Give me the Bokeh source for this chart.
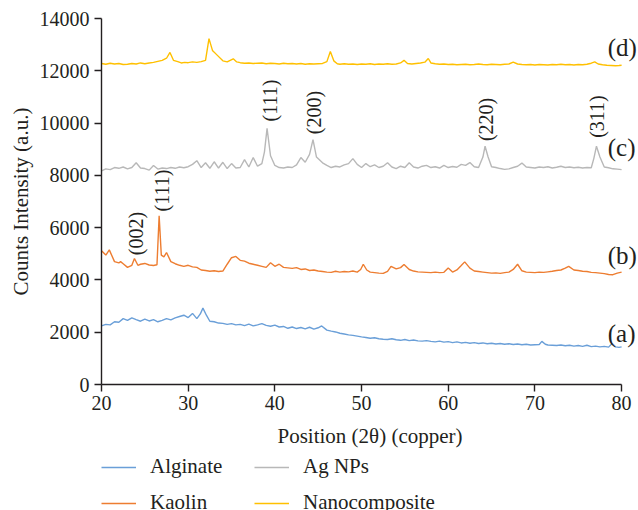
import math
from bokeh.plotting import figure
from bokeh.layouts import column
from bokeh.models import ColumnDataSource, FixedTicker, Legend, LegendItem
from bokeh.core.properties import value
from bokeh.embed import file_html
from bokeh.resources import INLINE

# ---------------- data ----------------
ALGINATE = [
    (20, 2240), (20.5, 2300), (21, 2280), (21.5, 2400), (22, 2380), (22.5, 2520), (23, 2450),
    (23.5, 2550), (24, 2480), (24.5, 2420), (25, 2500), (25.5, 2430), (26, 2480), (26.5, 2400),
    (27, 2450), (27.5, 2520), (28, 2470), (28.5, 2550), (29, 2600), (29.5, 2650), (30, 2560),
    (30.5, 2720), (31, 2520), (31.4, 2700), (31.7, 2920), (32.1, 2650), (32.5, 2420), (33, 2400),
    (33.5, 2350), (34, 2340), (34.5, 2300), (35, 2330), (35.5, 2280), (36, 2300), (36.5, 2250),
    (37, 2310), (37.5, 2240), (38, 2280), (38.5, 2330), (39, 2260), (39.5, 2230), (40, 2270),
    (40.5, 2200), (41, 2220), (41.5, 2150), (42, 2200), (42.5, 2140), (43, 2180), (43.5, 2130),
    (44, 2190), (44.5, 2120), (45, 2170), (45.4, 2240), (46, 2080), (46.5, 2040), (47, 2010),
    (47.5, 1960), (48, 1930), (48.5, 1900), (49, 1880), (49.5, 1850), (50, 1820), (50.5, 1800),
    (51, 1770), (51.5, 1790), (52, 1750), (52.5, 1730), (53, 1720), (53.5, 1750), (54, 1710),
    (54.5, 1690), (55, 1720), (55.5, 1680), (56, 1700), (56.5, 1670), (57, 1660), (57.5, 1680),
    (58, 1650), (58.5, 1630), (59, 1660), (59.5, 1620), (60, 1640), (60.5, 1600), (61, 1630),
    (61.5, 1590), (62, 1610), (62.5, 1580), (63, 1600), (63.5, 1570), (64, 1590), (64.5, 1560),
    (65, 1580), (65.5, 1550), (66, 1570), (66.5, 1540), (67, 1560), (67.5, 1530), (68, 1550),
    (68.5, 1520), (69, 1540), (69.5, 1510), (70, 1520), (70.5, 1530), (70.8, 1650), (71.2, 1540),
    (71.5, 1510), (72, 1500), (72.5, 1490), (73, 1510), (73.5, 1480), (74, 1500), (74.5, 1470),
    (75, 1490), (75.5, 1460), (76, 1500), (76.5, 1450), (77, 1470), (77.5, 1440), (78, 1460),
    (78.5, 1430), (78.9, 1570), (79.3, 1440), (79.7, 1420), (80, 1440),
]

KAOLIN = [
    (20, 5120), (20.5, 4950), (20.9, 5150), (21.5, 4700), (22, 4650), (22.2, 4700), (22.5, 4620),
    (23, 4480), (23.5, 4560), (23.8, 4820), (24.2, 4560), (24.5, 4600), (25, 4630), (25.5, 4570),
    (26, 4550), (26.4, 4580), (26.65, 6450), (26.9, 4950), (27.2, 4880), (27.5, 5050), (28, 4700),
    (28.5, 4620), (29, 4560), (29.5, 4520), (30, 4560), (30.5, 4500), (31, 4480), (31.5, 4380),
    (32, 4360), (32.5, 4330), (33, 4350), (33.5, 4320), (34, 4340), (34.5, 4600), (35, 4850),
    (35.5, 4900), (36, 4750), (36.5, 4720), (37, 4640), (37.5, 4600), (38, 4560), (38.5, 4520),
    (39, 4480), (39.5, 4660), (40, 4520), (40.5, 4600), (41, 4480), (41.5, 4460), (42, 4440),
    (42.5, 4470), (43, 4400), (43.5, 4420), (44, 4360), (44.5, 4380), (45, 4340), (45.5, 4320),
    (46, 4300), (46.5, 4290), (47, 4330), (47.5, 4300), (48, 4320), (48.5, 4310), (49, 4340),
    (49.5, 4300), (49.9, 4400), (50.2, 4600), (50.6, 4380), (51, 4300), (51.5, 4280), (52, 4260),
    (52.5, 4250), (53, 4330), (53.4, 4520), (54, 4420), (54.5, 4470), (54.9, 4590), (55.5, 4400),
    (56, 4340), (56.5, 4310), (57, 4300), (57.5, 4290), (58, 4280), (58.5, 4300), (59, 4280),
    (59.5, 4290), (60, 4460), (60.5, 4300), (61, 4380), (61.5, 4550), (61.9, 4690), (62.5, 4450),
    (63, 4340), (63.5, 4320), (64, 4300), (64.5, 4280), (65, 4260), (65.5, 4270), (66, 4250),
    (66.5, 4280), (67, 4300), (67.5, 4400), (68, 4600), (68.5, 4350), (69, 4300), (69.5, 4290),
    (70, 4280), (70.5, 4300), (71, 4290), (71.5, 4310), (72, 4330), (72.5, 4360), (73, 4380),
    (73.5, 4450), (73.9, 4520), (74.5, 4380), (75, 4360), (75.5, 4330), (76, 4320), (76.5, 4290),
    (77, 4280), (77.5, 4260), (78, 4240), (78.5, 4210), (79, 4200), (79.5, 4260), (80, 4300),
]

AG_NPS = [
    (20, 8170), (20.5, 8250), (21, 8220), (21.5, 8300), (22, 8270), (22.5, 8320), (23, 8250),
    (23.5, 8300), (24, 8480), (24.5, 8280), (25, 8260), (25.5, 8200), (26, 8380), (26.5, 8240),
    (27, 8280), (27.5, 8260), (28, 8300), (28.5, 8270), (29, 8320), (29.5, 8290), (30, 8330),
    (30.5, 8420), (31, 8560), (31.5, 8300), (32, 8480), (32.5, 8270), (33, 8520), (33.5, 8280),
    (34, 8500), (34.5, 8260), (35, 8450), (35.5, 8280), (36, 8300), (36.5, 8600), (37, 8320),
    (37.5, 8680), (38, 8350), (38.5, 8450), (38.8, 8900), (39.1, 9800), (39.5, 8750), (40, 8380),
    (40.5, 8300), (41, 8280), (41.5, 8320), (42, 8300), (42.5, 8400), (43, 8680), (43.5, 8500),
    (44, 8800), (44.4, 9370), (44.8, 8700), (45.5, 8480), (46, 8380), (46.5, 8300), (47, 8350),
    (47.5, 8320), (48, 8400), (48.5, 8450), (49, 8640), (49.5, 8420), (50, 8300), (50.5, 8450),
    (51, 8330), (51.5, 8400), (52, 8300), (52.5, 8350), (53, 8480), (53.5, 8320), (54, 8260),
    (54.5, 8350), (55, 8300), (55.5, 8480), (56, 8320), (56.5, 8280), (57, 8350), (57.5, 8380),
    (58, 8300), (58.5, 8330), (59, 8280), (59.5, 8380), (60, 8300), (60.5, 8340), (61, 8310),
    (61.5, 8420), (62, 8380), (62.5, 8490), (63, 8330), (63.5, 8300), (64, 8700), (64.25, 9115),
    (64.6, 8700), (65, 8330), (65.5, 8300), (66, 8260), (66.5, 8230), (67, 8250), (67.5, 8300),
    (68, 8350), (68.5, 8470), (69, 8320), (69.5, 8300), (70, 8280), (70.5, 8320), (71, 8300),
    (71.5, 8330), (72, 8280), (72.5, 8310), (73, 8350), (73.5, 8300), (74, 8320), (74.5, 8290),
    (75, 8310), (75.5, 8280), (76, 8300), (76.5, 8290), (76.8, 8650), (77.1, 9115), (77.5, 8700),
    (78, 8320), (78.5, 8290), (79, 8250), (79.5, 8240), (80, 8220),
]

NANOCOMPOSITE = [
    (20, 12280), (20.5, 12250), (21, 12290), (21.5, 12260), (22, 12280), (22.5, 12240), (23, 12250),
    (23.5, 12280), (24, 12260), (24.5, 12300), (25, 12270), (25.5, 12300), (26, 12320), (26.5, 12360),
    (27, 12400), (27.5, 12480), (27.9, 12700), (28.3, 12400), (28.8, 12350), (29.2, 12300),
    (29.6, 12320), (30, 12310), (30.5, 12340), (31, 12320), (31.5, 12350), (32, 12400), (32.4, 13230),
    (32.8, 12780), (33.4, 12580), (34, 12380), (34.5, 12340), (35.2, 12460), (35.6, 12340),
    (36, 12310), (36.5, 12290), (37, 12300), (37.5, 12280), (38, 12290), (38.5, 12300), (39, 12270),
    (39.5, 12290), (40, 12280), (40.5, 12260), (41, 12290), (41.5, 12270), (42, 12280), (42.5, 12260),
    (43, 12280), (43.5, 12250), (44, 12270), (44.5, 12260), (45, 12270), (45.5, 12280), (46, 12350),
    (46.4, 12740), (46.8, 12380), (47.2, 12270), (47.5, 12250), (48, 12270), (48.5, 12250),
    (49, 12260), (49.5, 12240), (50, 12260), (50.5, 12250), (51, 12270), (51.5, 12240), (52, 12260),
    (52.5, 12250), (53, 12270), (53.5, 12250), (54, 12260), (54.5, 12300), (54.9, 12400),
    (55.3, 12280), (55.8, 12260), (56.3, 12280), (56.8, 12300), (57.3, 12330), (57.7, 12470),
    (58, 12300), (58.5, 12270), (59, 12250), (59.5, 12260), (60, 12240), (60.5, 12250), (61, 12230),
    (61.5, 12240), (62, 12250), (62.5, 12230), (63, 12240), (63.5, 12260), (64, 12240), (64.5, 12230),
    (65, 12250), (65.5, 12240), (66, 12230), (66.5, 12250), (67, 12260), (67.5, 12330), (68, 12260),
    (68.5, 12240), (69, 12230), (69.5, 12240), (70, 12220), (70.5, 12240), (71, 12230), (71.5, 12220),
    (72, 12240), (72.5, 12230), (73, 12250), (73.5, 12230), (74, 12240), (74.5, 12220), (75, 12240),
    (75.5, 12230), (76, 12250), (76.5, 12290), (76.9, 12340), (77.3, 12260), (77.8, 12230),
    (78.3, 12210), (78.8, 12200), (79.3, 12190), (79.7, 12200), (80, 12210),
]

SERIES_NAMES = ["Alginate", "Kaolin", "Ag NPs", "Nanocomposite"]
SERIES_DATA = [ALGINATE, KAOLIN, AG_NPS, NANOCOMPOSITE]
SERIES_COLORS = ["#6a9fd8", "#ed7d31", "#b8b8b8", "#ffc000"]

CURVE_TAGS = ["(a)", "(b)", "(c)", "(d)"]
CURVE_TAG_X = [78.4, 78.4, 78.4, 78.4]
CURVE_TAG_Y = [1950, 4930, 9065, 12890]

PEAK_TAGS = ["(002)", "(111)", "(111)", "(200)", "(220)", "(311)"]
PEAK_TAG_X = [23.97, 27.0, 39.43, 44.55, 64.4, 77.2]
PEAK_TAG_Y = [5775, 7420, 10860, 10400, 10140, 10250]

X_TICKS = [20, 30, 40, 50, 60, 70, 80]
Y_TICKS = [0, 2000, 4000, 6000, 8000, 10000, 12000, 14000]

FONT = "Liberation Serif"
INK = "#231f20"

# ---------------- main figure ----------------
p = figure(width=638, height=454, output_backend="svg", toolbar_location=None,
           x_range=(20, 81.95), y_range=(0, 14000),
           min_border_left=99, min_border_right=0, min_border_top=18, min_border_bottom=70)
p.outline_line_color = None
p.grid.visible = False

for name, data, color in zip(SERIES_NAMES, SERIES_DATA, SERIES_COLORS):
    p.line([d[0] for d in data], [d[1] for d in data], line_color=color, line_width=1.4)

tag_src = ColumnDataSource(dict(x=CURVE_TAG_X, y=CURVE_TAG_Y, t=CURVE_TAGS))
p.text(x="x", y="y", text="t", source=tag_src, text_font=value(FONT), text_font_size="25px",
       text_color=INK, text_align="left", text_baseline="middle")

peak_src = ColumnDataSource(dict(x=PEAK_TAG_X, y=PEAK_TAG_Y, t=PEAK_TAGS))
p.text(x="x", y="y", text="t", source=peak_src, text_font=value(FONT), text_font_size="20px",
       text_color=INK, text_align="center", text_baseline="middle", angle=math.pi / 2)

for ax in (p.xaxis[0], p.yaxis[0]):
    ax.axis_line_color = INK
    ax.axis_line_width = 1.4
    ax.major_tick_line_color = INK
    ax.major_tick_line_width = 1.4
    ax.major_tick_out = 7
    ax.major_tick_in = 0
    ax.minor_tick_line_color = None
    ax.major_label_text_font = FONT
    ax.major_label_text_font_size = "20px"
    ax.major_label_text_color = INK
    ax.axis_label_text_font = FONT
    ax.axis_label_text_font_size = "21px"
    ax.axis_label_text_font_style = "normal"
    ax.axis_label_text_color = INK

p.xaxis.ticker = FixedTicker(ticks=X_TICKS)
p.xaxis.bounds = (20, 80)
p.xaxis.axis_label = "Position (2θ) (copper)"
p.xaxis.major_label_standoff = 4
p.xaxis.axis_label_standoff = 11

p.yaxis.ticker = FixedTicker(ticks=Y_TICKS)
p.yaxis.axis_label = "Counts Intensity (a.u.)"
p.yaxis.major_label_standoff = 5
p.yaxis.axis_label_standoff = 4

# ---------------- legend strip (same series; data lie outside its ranges) ----------------
leg = figure(width=638, height=56, output_backend="svg", toolbar_location=None,
             x_range=(0, 1), y_range=(0, 1), x_axis_location=None, y_axis_location=None,
             min_border_left=101, min_border_right=0, min_border_top=0, min_border_bottom=0)
leg.outline_line_color = None
leg.grid.visible = False
leg_renderers = {}
for name, data, color in zip(SERIES_NAMES, SERIES_DATA, SERIES_COLORS):
    leg_renderers[name] = leg.line([d[0] for d in data], [d[1] for d in data],
                                   line_color=color, line_width=1.4)

legend = Legend(items=[LegendItem(label=n, renderers=[leg_renderers[n]]) for n in SERIES_NAMES],
                location="top_left", orientation="vertical", nrows=2,
                label_text_font=FONT, label_text_font_size="21px", label_text_color=INK,
                glyph_width=35, glyph_height=20, label_height=20, label_width=93,
                label_standoff=14, spacing=11, padding=0, margin=0, border_line_color=None,
                background_fill_alpha=0)
leg.add_layout(legend, "center")

layout = column(p, leg, spacing=0)
open("out.html", "w").write(file_html(layout, INLINE))
